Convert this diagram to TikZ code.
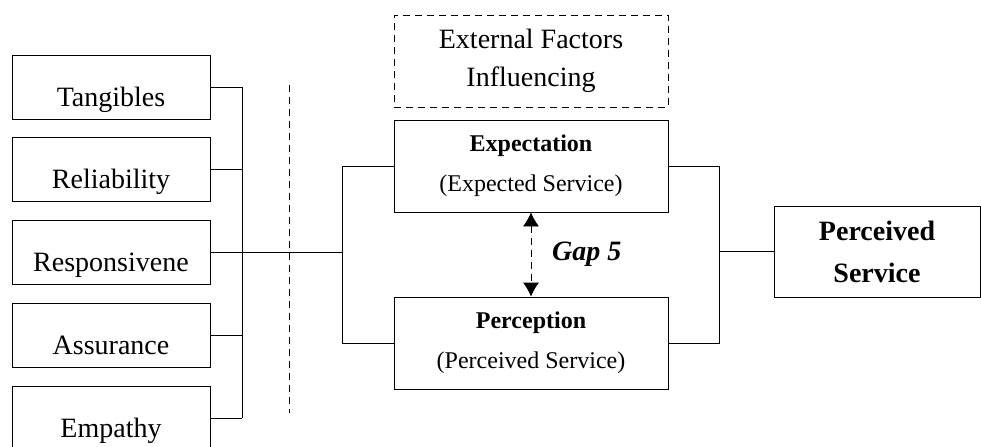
\documentclass[tikz,border=0pt]{standalone}
\usepackage{fontspec}
\setmainfont{Liberation Serif}
\usetikzlibrary{positioning, arrows.meta}
\tikzset{
    line width=0.9pt,
    >={Latex[length=7pt, width=8pt]}, % filled triangle heads
    factor/.style={draw, minimum width=99pt, minimum height=32pt, text height=21pt, text depth=2pt, font=\fontsize{14}{17}\selectfont}, % the five dimensions
    gapbox/.style={draw, minimum width=137pt, minimum height=46pt, align=center, font=\fontsize{12}{20}\selectfont},
    dashline/.style={dash pattern=on 3.5pt off 2.5pt},
}
\begin{document}
\begin{tikzpicture}[x=0.5pt, y=-0.5pt, node distance=9pt]
    \useasboundingbox (0,0) rectangle (981,446);
    \node[factor] (tan) at (111,87) {Tangibles};
    \node[factor, below=of tan] (rel) {Reliability};
    \node[factor, below=of rel] (resp) {Responsivene};
    \node[factor, below=of resp] (ass) {Assurance};
    \node[factor, below=of ass] (emp) {Empathy};
    \node[gapbox, dashline, font=\fontsize{14}{19}\selectfont] (ext) at (531,61) {External Factors\\Influencing};
    \node[gapbox] (expt) at (531,166) {\textbf{Expectation}\\(Expected Service)};
    \node[gapbox] (perc) at (531,343) {\textbf{Perception}\\(Perceived Service)};
    \node[draw, minimum width=103pt, minimum height=45.5pt, align=center, font=\fontsize{14}{21}\selectfont\bfseries] (ps) at (877,251.5) {Perceived\\Service};
    \coordinate (busL) at (242,0);
    \coordinate (busM) at (342,0);
    \coordinate (busR) at (719,0);
    \coordinate (divTop) at (289,85);
    \coordinate (divBot) at (289,413);
    \foreach \f in {tan, rel, ass, emp}
        \draw (\f.east) -- (\f.east -| busL);
    \draw (tan.east -| busL) -- (emp.east -| busL);
    \draw (resp.east) -- (resp.east -| busM);
    \draw[dashline] (divTop) -- (divBot);
    \draw (expt.west) -| (busM |- perc.west) -- (perc.west);
    \draw (expt.east) -| (busR |- perc.east) -- (perc.east);
    \draw (busR |- ps.west) -- (ps.west);
    \draw[dashline, <->] (expt.south) -- node[right=7pt, font=\fontsize{14}{17}\selectfont\bfseries\itshape] (gap) {Gap 5} (perc.north);
\end{tikzpicture}
\end{document}
